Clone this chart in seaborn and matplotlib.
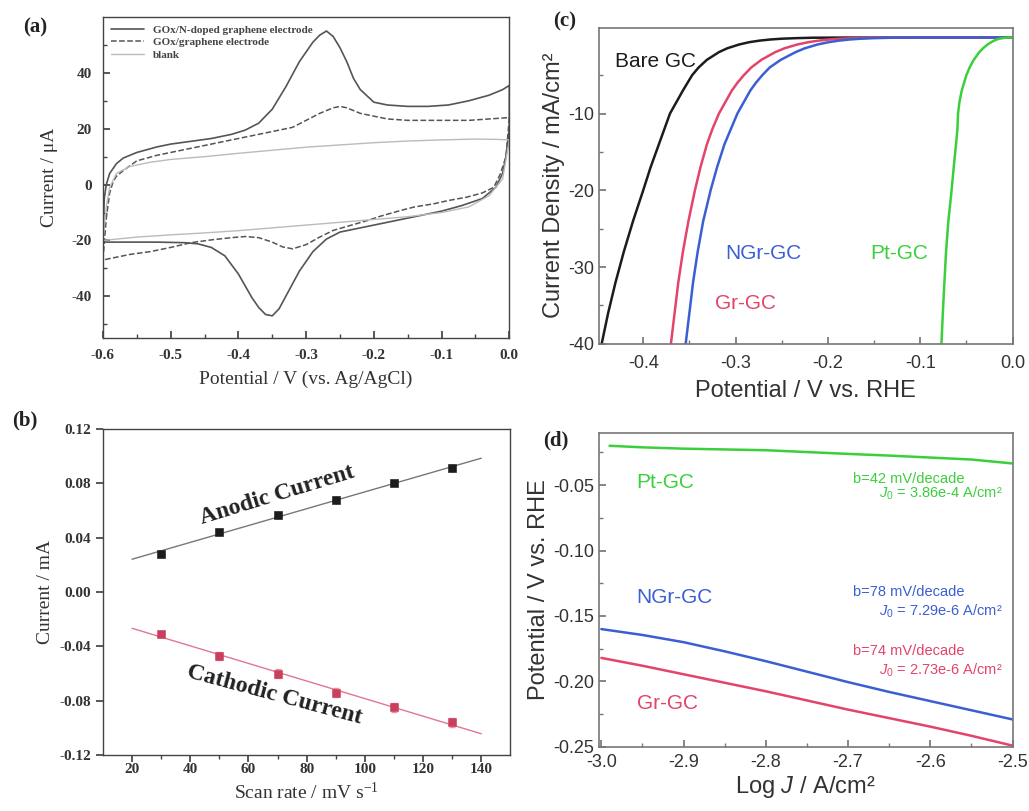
import numpy as np
import pandas as pd
import seaborn as sns
import matplotlib.pyplot as plt

# ---- (a) cyclic voltammograms: upper branch (left->right) then lower branch (right->left)
ngr_cv_x = [-0.600, -0.598, -0.595, -0.59, -0.58, -0.57, -0.55, -0.52, -0.50, -0.47,
            -0.44, -0.41, -0.39, -0.37, -0.35, -0.33, -0.31, -0.29, -0.28, -0.27,
            -0.26, -0.25, -0.24, -0.23, -0.22, -0.20, -0.18, -0.15, -0.12, -0.09,
            -0.06, -0.03, -0.01, 0.0,
            0.0, -0.005, -0.01, -0.02, -0.04, -0.07, -0.10, -0.14, -0.18, -0.22,
            -0.25, -0.27, -0.29, -0.31, -0.33, -0.34, -0.35, -0.36, -0.37, -0.38,
            -0.40, -0.42, -0.44, -0.46, -0.48, -0.52, -0.56, -0.60]
ngr_cv_y = [-20, -5, 0, 4, 7.5, 9.5, 11.5, 13.5, 14.5, 15.5,
            16.5, 18, 19.5, 22, 27, 35, 44, 51, 53.5, 55,
            53, 49, 44, 38, 34, 29.5, 28.5, 28, 28, 28.5,
            30, 32, 34, 35.5,
            20, 10, 4, -1, -5, -7.5, -9.5, -11.5, -13.5, -15.5,
            -17, -19.5, -24, -31, -40, -44.5, -47, -46.5, -44, -40.5,
            -32, -25.5, -22.5, -21.2, -20.8, -20.6, -20.6, -20.6]

gr_cv_x = [-0.600, -0.595, -0.59, -0.585, -0.58, -0.57, -0.55, -0.52, -0.50, -0.47,
           -0.44, -0.41, -0.38, -0.35, -0.32, -0.30, -0.28, -0.26, -0.25, -0.24,
           -0.22, -0.20, -0.18, -0.15, -0.12, -0.09, -0.06, -0.03, 0.0,
           0.0, -0.005, -0.013, -0.023, -0.04, -0.063, -0.09, -0.112, -0.14, -0.161,
           -0.19, -0.21, -0.24, -0.26, -0.28, -0.30, -0.32, -0.335, -0.35, -0.37,
           -0.39, -0.41, -0.44, -0.47, -0.50, -0.53, -0.56, -0.60]
gr_cv_y = [-27, -12, -3, 1, 3, 5, 8.5, 10.5, 11.5, 13,
           14.5, 16, 17.5, 19, 20.5, 23, 25.5, 27.5, 28, 27.5,
           25.5, 24.5, 23.5, 23, 23, 23, 23, 23.5, 24,
           24, 10, 4, -1, -3, -4.5, -5.7, -6.9, -8, -9.3,
           -11.3, -12.9, -15, -16.4, -18.8, -21.5, -23, -22.3, -20.6, -19,
           -18.6, -19, -19.8, -20.8, -22.5, -24, -25, -27]

blank_cv_x = [-0.600, -0.595, -0.59, -0.58, -0.56, -0.53, -0.50, -0.45, -0.40, -0.35,
              -0.30, -0.25, -0.20, -0.15, -0.10, -0.05, -0.02, 0.0,
              0.0, -0.01, -0.03, -0.06, -0.10, -0.15, -0.20, -0.25, -0.30, -0.35,
              -0.40, -0.45, -0.50, -0.55, -0.60]
blank_cv_y = [-20, -8, -1, 4, 6.5, 8, 9, 10, 11.2, 12.3,
              13.4, 14.2, 15, 15.6, 16, 16.3, 16.2, 16,
              16, 2, -4, -8, -10, -11.5, -12.5, -13.5, -14.5, -15.5,
              -16.5, -17.3, -18, -18.8, -20]

cv_labels = ['GOx/N-doped graphene electrode', 'GOx/graphene electrode', 'blank']

# ---- (b) peak current vs scan rate
scan_rate = [30, 50, 70, 90, 110, 130]
anodic = [0.028, 0.044, 0.057, 0.068, 0.080, 0.091]
cathodic = [-0.031, -0.047, -0.060, -0.074, -0.085, -0.096]
anodic_err = [0.002, 0.002, 0.003, 0.003, 0.002, 0.003]
cathodic_err = [0.002, 0.003, 0.003, 0.003, 0.003, 0.003]
fit_range = [20, 140]

# ---- (c) polarization curves (current density levels, potential per electrode)
c_current = [-40, -36, -32, -28, -24, -20, -17, -14, -12, -10, -8.5, -7, -6, -5,
             -4, -3, -2, -1.5, -1, -0.7, -0.5, -0.35, -0.25, -0.18, -0.12, -0.1, -0.1]
bare_x = [-0.445, -0.438, -0.430, -0.421, -0.411, -0.400, -0.392, -0.383, -0.377, -0.371,
          -0.364, -0.357, -0.352, -0.347, -0.340, -0.331, -0.318, -0.309, -0.296, -0.285,
          -0.274, -0.262, -0.250, -0.235, -0.215, -0.180, 0.0]
grgc_x = [-0.370, -0.366, -0.362, -0.357, -0.351, -0.344, -0.338, -0.331, -0.325, -0.318,
          -0.311, -0.304, -0.298, -0.291, -0.283, -0.272, -0.257, -0.247, -0.233, -0.221,
          -0.210, -0.198, -0.186, -0.172, -0.152, -0.120, 0.0]
ngrgc_x = [-0.354, -0.350, -0.346, -0.341, -0.335, -0.327, -0.320, -0.312, -0.305, -0.298,
           -0.291, -0.284, -0.278, -0.271, -0.263, -0.251, -0.235, -0.225, -0.211, -0.199,
           -0.188, -0.176, -0.164, -0.150, -0.130, -0.100, 0.0]
ptgc_x = [-0.077, -0.0755, -0.0738, -0.072, -0.0695, -0.066, -0.0637, -0.0612, -0.0597, -0.059,
          -0.0575, -0.055, -0.0525, -0.050, -0.0465, -0.042, -0.036, -0.032, -0.027, -0.023,
          -0.020, -0.017, -0.014, -0.011, -0.008, -0.005, 0.0]

# ---- (d) Tafel plots
logj = [-3.0, -2.95, -2.9, -2.85, -2.8, -2.75, -2.7, -2.65, -2.6, -2.55, -2.5]
pt_logj = [-2.99, -2.95, -2.9, -2.85, -2.8, -2.75, -2.7, -2.65, -2.6, -2.55, -2.5]
pt_tafel = [-0.0200, -0.0212, -0.0222, -0.0228, -0.0234, -0.0248, -0.0262, -0.0275, -0.0290, -0.0305, -0.0335]
ngr_tafel = [-0.160, -0.1645, -0.170, -0.177, -0.1845, -0.1925, -0.2005, -0.208, -0.215, -0.222, -0.229]
gr_tafel = [-0.182, -0.188, -0.1945, -0.201, -0.2075, -0.2145, -0.2215, -0.228, -0.2345, -0.2415, -0.249]
tafel_slope = ['b=42 mV/decade', 'b=78 mV/decade', 'b=74 mV/decade']
tafel_j0 = ['$J_0$ = 3.86e-4 A/cm²', '$J_0$ = 7.29e-6 A/cm²', '$J_0$ = 2.73e-6 A/cm²']

sns.set_theme(style='ticks')
plt.rcParams['axes.unicode_minus'] = False
plt.rcParams['mathtext.fontset'] = 'custom'
plt.rcParams['mathtext.it'] = 'Liberation Sans:italic'
plt.rcParams['mathtext.rm'] = 'Liberation Sans'

BLACK = '#1c1c1c'
RED = '#e3446a'
BLUE = '#3b5fd2'
GREEN = '#3ccf3c'
SERIF = 'Liberation Serif'
SANS = 'Liberation Sans'

fig = plt.figure(figsize=(10.29, 8.11), dpi=100)
ax_a = fig.add_axes([0.100, 0.583, 0.395, 0.396])
ax_b = fig.add_axes([0.100, 0.069, 0.396, 0.402])
ax_c = fig.add_axes([0.582, 0.576, 0.402, 0.390])
ax_d = fig.add_axes([0.582, 0.079, 0.402, 0.387])


def serif_axes(ax):
    for s in ax.spines.values():
        s.set_color('#444444')
        s.set_linewidth(1.0)
    for lab in ax.get_xticklabels() + ax.get_yticklabels():
        lab.set_family(SERIF)
        lab.set_fontweight('bold')
        lab.set_fontsize(11)
        lab.set_color('#333333')


def sans_axes(ax):
    for s in ax.spines.values():
        s.set_color('#777777')
        s.set_linewidth(1.2)
    ax.tick_params(which='both', direction='in', colors='#777777', labelcolor='#333333')
    ax.tick_params(which='major', length=5)
    ax.tick_params(which='minor', length=3)
    ax.tick_params(axis='x', pad=8)
    for lab in ax.get_xticklabels() + ax.get_yticklabels():
        lab.set_family(SANS)
        lab.set_fontsize(13)


# ---- panel (a)
sns.lineplot(x=ngr_cv_x, y=ngr_cv_y, sort=False, estimator=None, ax=ax_a,
             color='#555555', lw=1.2, label=cv_labels[0])
sns.lineplot(x=gr_cv_x, y=gr_cv_y, sort=False, estimator=None, ax=ax_a,
             color='#555555', lw=1.1, linestyle='--', label=cv_labels[1])
sns.lineplot(x=blank_cv_x, y=blank_cv_y, sort=False, estimator=None, ax=ax_a,
             color='#bbbbbb', lw=1.0, label=cv_labels[2])
ax_a.set_xlim(-0.6, 0.0)
ax_a.set_ylim(-55, 60)
ax_a.set_xticks([-0.6, -0.5, -0.4, -0.3, -0.2, -0.1, 0.0])
ax_a.set_xticks(np.arange(-0.55, 0, 0.1), minor=True)
ax_a.set_yticks([-40, -20, 0, 20, 40])
ax_a.set_yticks([-50, -30, -10, 10, 30, 50], minor=True)
ax_a.tick_params(which='both', direction='in', colors='#444444')
ax_a.tick_params(which='major', length=5, pad=8)
ax_a.tick_params(which='minor', length=3)
ax_a.set_xlabel('Potential / V (vs. Ag/AgCl)', family=SERIF, fontsize=14, color='#333333', labelpad=6)
ax_a.set_ylabel('Current / μA', family=SERIF, fontsize=14, color='#333333', labelpad=10)
serif_axes(ax_a)
leg = ax_a.legend(loc='upper left', frameon=False, handlelength=3.0, borderaxespad=0.3,
                  labelspacing=0.25, prop={'family': SERIF, 'size': 8, 'weight': 'bold'})
for t in leg.get_texts():
    t.set_color('#444444')

# ---- panel (b)
ax_b.errorbar(scan_rate, anodic, yerr=anodic_err, fmt='none', ecolor='#888888', elinewidth=1, capsize=0)
ax_b.errorbar(scan_rate, cathodic, yerr=cathodic_err, fmt='none', ecolor='#f090a8', elinewidth=1.5, capsize=2)
sns.scatterplot(x=scan_rate, y=anodic, ax=ax_b, marker='s', color=BLACK, s=30, edgecolor=BLACK, zorder=3)
sns.scatterplot(x=scan_rate, y=cathodic, ax=ax_b, marker='s', color='#c8405e', s=26, edgecolor='#c8405e', zorder=3)
pa = np.polyfit(scan_rate, anodic, 1)
pc = np.polyfit(scan_rate, cathodic, 1)
sns.lineplot(x=fit_range, y=np.polyval(pa, fit_range), ax=ax_b, color='#777777', lw=1.0)
sns.lineplot(x=fit_range, y=np.polyval(pc, fit_range), ax=ax_b, color='#e07890', lw=1.0)
ax_b.set_xlim(10, 150)
ax_b.set_ylim(-0.12, 0.12)
ax_b.set_xticks([20, 40, 60, 80, 100, 120, 140])
ax_b.set_xticks([30, 50, 70, 90, 110, 130], minor=True)
ax_b.set_yticks([-0.12, -0.08, -0.04, 0.0, 0.04, 0.08, 0.12])
ax_b.set_yticklabels(['-0.12', '-0.08', '-0.04', '0.00', '0.04', '0.08', '0.12'])
ax_b.tick_params(which='both', direction='out', colors='#444444')
ax_b.tick_params(which='major', length=5)
ax_b.tick_params(which='minor', length=3)
ax_b.tick_params(axis='x', pad=1)
ax_b.set_xlabel(r'Scan rate / mV $\mathregular{s^{-1}}$', family=SERIF, fontsize=14, color='#333333')
ax_b.set_ylabel('Current / mA', family=SERIF, fontsize=14, color='#333333')
serif_axes(ax_b)
ax_b.text(70, 0.071, 'Anodic Current', family=SERIF, fontsize=17, fontweight='bold',
          rotation=17, ha='center', va='center', color='#222222')
ax_b.text(69, -0.076, 'Cathodic Current', family=SERIF, fontsize=17, fontweight='bold',
          rotation=-15, ha='center', va='center', color='#222222')

# ---- panel (c)
for xs, col in [(bare_x, BLACK), (grgc_x, RED), (ngrgc_x, BLUE), (ptgc_x, GREEN)]:
    sns.lineplot(x=xs, y=c_current, sort=False, estimator=None, ax=ax_c, color=col, lw=1.8)
ax_c.set_xlim(-0.448, 0.0)
ax_c.set_ylim(-40, 1.2)
ax_c.set_xticks([-0.4, -0.3, -0.2, -0.1, 0.0])
ax_c.set_xticklabels(['-0.4', '-0.3', '-0.2', '-0.1', '0.0'])
ax_c.set_xticks([-0.35, -0.25, -0.15, -0.05], minor=True)
ax_c.set_yticks([-40, -30, -20, -10])
ax_c.set_yticks([-35, -25, -15, -5], minor=True)
ax_c.set_xlabel('Potential / V vs. RHE', family=SANS, fontsize=17, color='#333333', labelpad=6)
ax_c.set_ylabel('Current Density / mA/cm²', family=SANS, fontsize=17, color='#333333', labelpad=2)
sans_axes(ax_c)
ax_c.text(-0.430, -3.2, 'Bare GC', family=SANS, fontsize=15, color=BLACK, va='center')
ax_c.text(-0.311, -28.2, 'NGr-GC', family=SANS, fontsize=15, color=BLUE, va='center')
ax_c.text(-0.322, -34.8, 'Gr-GC', family=SANS, fontsize=15, color=RED, va='center')
ax_c.text(-0.154, -28.2, 'Pt-GC', family=SANS, fontsize=15, color=GREEN, va='center')

# ---- panel (d)
sns.lineplot(x=pt_logj, y=pt_tafel, ax=ax_d, color=GREEN, lw=1.8)
sns.lineplot(x=logj, y=ngr_tafel, ax=ax_d, color=BLUE, lw=1.8)
sns.lineplot(x=logj, y=gr_tafel, ax=ax_d, color=RED, lw=1.8)
ax_d.set_xlim(-3.003, -2.5)
ax_d.set_ylim(-0.25, -0.0103)
ax_d.set_xticks([-3.0, -2.9, -2.8, -2.7, -2.6, -2.5])
ax_d.set_xticks([-2.95, -2.85, -2.75, -2.65, -2.55], minor=True)
ax_d.set_yticks([-0.25, -0.20, -0.15, -0.10, -0.05])
ax_d.set_yticklabels(['-0.25', '-0.20', '-0.15', '-0.10', '-0.05'])
ax_d.set_yticks([-0.225, -0.175, -0.125, -0.075, -0.025], minor=True)
ax_d.set_xlabel('Log $J$ / A/cm²', family=SANS, fontsize=17, color='#333333', labelpad=2)
ax_d.set_ylabel('Potential / V vs. RHE', family=SANS, fontsize=17, color='#333333', labelpad=2)
sans_axes(ax_d)
ax_d.tick_params(axis='x', pad=5)
ax_d.text(-2.957, -0.048, 'Pt-GC', family=SANS, fontsize=15, color=GREEN, va='center')
ax_d.text(-2.957, -0.136, 'NGr-GC', family=SANS, fontsize=15, color=BLUE, va='center')
ax_d.text(-2.957, -0.217, 'Gr-GC', family=SANS, fontsize=15, color=RED, va='center')
for i, (col, y1, y2) in enumerate([(GREEN, -0.0455, -0.0565), (BLUE, -0.132, -0.1465),
                                   (RED, -0.1765, -0.1915)]):
    ax_d.text(-2.559, y1, tafel_slope[i], family=SANS, fontsize=10.5, color=col, ha='right', va='center')
    ax_d.text(-2.512, y2, tafel_j0[i], family=SANS, fontsize=10.5, color=col, ha='right', va='center')

# panel letters
for lab, x, y in [('(a)', 0.022, 0.966), ('(b)', 0.012, 0.482), ('(c)', 0.538, 0.973), ('(d)', 0.528, 0.457)]:
    fig.text(x, y, lab, family=SERIF, fontsize=15, fontweight='bold', color='#222222', va='center')

fig.savefig('out.png', dpi=100)
